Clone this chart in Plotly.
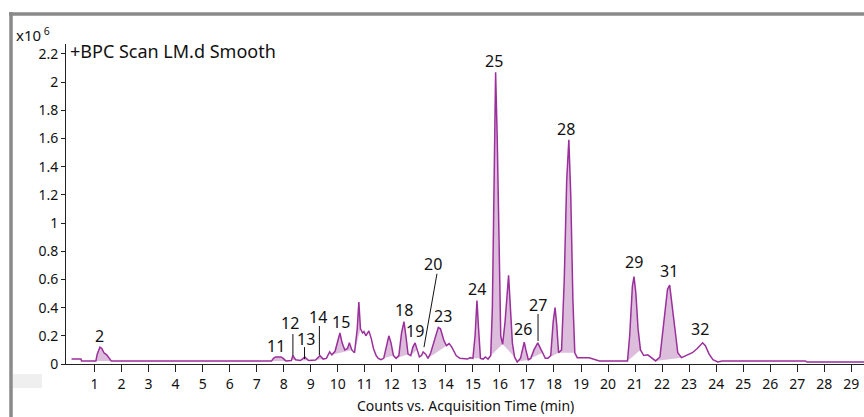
import plotly.graph_objects as go

# ---- data (counts in units of 10^6) ----
times = [0.15, 0.50, 0.52, 1.05, 1.10, 1.20, 1.27, 1.35, 1.45, 1.57, 1.62,
         7.55, 7.62, 7.70, 7.90, 7.98, 8.08, 8.28, 8.34, 8.44, 8.62, 8.78, 8.92,
         9.18, 9.34, 9.46, 9.58, 9.70, 9.78, 9.90, 10.00, 10.08, 10.16, 10.26,
         10.36, 10.43, 10.52, 10.62, 10.72, 10.78, 10.84, 10.92, 10.97, 11.04,
         11.15, 11.24, 11.32, 11.42, 11.50, 11.60, 11.70, 11.82, 11.89, 11.97,
         12.06, 12.16, 12.26, 12.36, 12.45, 12.52, 12.60, 12.70, 12.78, 12.86,
         12.93, 13.02, 13.10, 13.16, 13.25, 13.34, 13.44, 13.58, 13.72, 13.80,
         13.92, 14.02, 14.12, 14.22, 14.38, 14.52, 14.80, 14.90, 15.00, 15.08,
         15.15, 15.21, 15.28, 15.38, 15.46, 15.56, 15.66, 15.72, 15.78, 15.84,
         15.90, 15.96, 16.03, 16.10, 16.19, 16.32, 16.39, 16.46, 16.54, 16.64,
         16.76, 16.84, 16.90, 16.96, 17.05, 17.14, 17.26, 17.40, 17.48, 17.58,
         17.68, 17.78, 17.88, 17.97, 18.04, 18.10, 18.17, 18.28, 18.38, 18.47,
         18.55, 18.62, 18.70, 18.77, 18.86, 19.30, 19.50, 19.68, 20.72, 20.80,
         20.90, 20.96, 21.03, 21.11, 21.20, 21.32, 21.47, 21.62, 21.76, 21.92,
         22.06, 22.20, 22.28, 22.38, 22.48, 22.58, 22.72, 22.92, 23.12, 23.30,
         23.50, 23.60, 23.74, 23.88, 24.06, 24.22, 27.30, 27.36, 29.50]
counts = [0.035, 0.035, 0.022, 0.022, 0.07, 0.12, 0.11, 0.08, 0.065, 0.03, 0.022,
          0.022, 0.04, 0.05, 0.05, 0.04, 0.022, 0.025, 0.06, 0.03, 0.025, 0.05, 0.025,
          0.028, 0.06, 0.035, 0.04, 0.085, 0.065, 0.09, 0.17, 0.22, 0.15, 0.10,
          0.11, 0.15, 0.10, 0.08, 0.25, 0.44, 0.25, 0.22, 0.23, 0.20,
          0.235, 0.18, 0.11, 0.06, 0.04, 0.03, 0.04, 0.15, 0.20, 0.15,
          0.06, 0.04, 0.06, 0.22, 0.30, 0.20, 0.07, 0.06, 0.12, 0.15,
          0.10, 0.05, 0.06, 0.085, 0.07, 0.04, 0.08, 0.18, 0.26, 0.25,
          0.17, 0.13, 0.145, 0.12, 0.06, 0.04, 0.035, 0.045, 0.04, 0.20,
          0.45, 0.25, 0.04, 0.035, 0.05, 0.035, 0.06, 0.40, 1.20, 2.07,
          1.60, 0.80, 0.20, 0.14, 0.30, 0.63, 0.40, 0.15, 0.05, 0.015,
          0.04, 0.12, 0.155, 0.10, 0.03, 0.04, 0.10, 0.15, 0.12, 0.08,
          0.04, 0.04, 0.06, 0.30, 0.40, 0.28, 0.08, 0.10, 0.60, 1.30,
          1.59, 1.20, 0.45, 0.08, 0.045, 0.045, 0.03, 0.022, 0.022, 0.20,
          0.55, 0.62, 0.50, 0.25, 0.10, 0.06, 0.065, 0.04, 0.022, 0.05,
          0.30, 0.53, 0.56, 0.40, 0.20, 0.08, 0.045, 0.06, 0.08, 0.11,
          0.15, 0.13, 0.07, 0.03, 0.015, 0.022, 0.022, 0.015, 0.015]

# integrated peak windows (start, end) in minutes
peak_windows = [(1.05, 1.62), (7.55, 8.08), (8.28, 8.44), (8.62, 8.92), (9.18, 9.46),
                (9.78, 10.52), (10.62, 10.84), (11.70, 12.06), (12.16, 12.60),
                (12.70, 12.93), (13.34, 14.02), (15.00, 15.28), (15.66, 16.10),
                (16.10, 16.54), (16.64, 17.05), (17.14, 17.58), (17.78, 18.17),
                (18.17, 18.77), (20.72, 21.20), (21.76, 22.72)]

label_text = ["2", "11", "12", "13", "14", "15", "18", "19", "20", "23", "24",
              "25", "26", "27", "28", "29", "31", "32"]
label_t = [1.20, 7.71, 8.23, 8.82, 9.27, 10.12, 12.45, 12.86, 13.52, 13.89, 15.15,
           15.78, 16.85, 17.41, 18.44, 20.96, 22.25, 23.40]
label_v = [0.20, 0.128, 0.291, 0.177, 0.334, 0.298, 0.383, 0.234, 0.71, 0.34, 0.532,
           2.15, 0.248, 0.419, 1.668, 0.724, 0.66, 0.248]

leader_t0 = [8.34, 8.77, 9.32, 13.67, 17.41]
leader_v0 = [0.213, 0.12, 0.27, 0.64, 0.355]
leader_t1 = [8.34, 8.77, 9.32, 13.19, 17.41]
leader_v1 = [0.057, 0.035, 0.064, 0.12, 0.163]

y_ticks = [0, 0.2, 0.4, 0.6, 0.8, 1, 1.2, 1.4, 1.6, 1.8, 2, 2.2]
x_ticks = list(range(1, 30))

# ---- styling ----
LINE = "#9b2f9b"
FILL = "#dcbedc"
FONT = "Noto Sans, Open Sans, sans-serif"
W, H = 864, 417
L, R, T, B = 66, 0, 44, 53


def px(xp):
    return (xp - L) / (W - L - R)


def py(yp):
    return (H - B - yp) / (H - T - B)


fig = go.Figure()

for (s, e) in peak_windows:
    xs = [t for t in times if s <= t <= e]
    ys = [c for t, c in zip(times, counts) if s <= t <= e]
    fig.add_trace(go.Scatter(x=xs, y=ys, mode="none", fill="toself",
                             fillcolor=FILL, hoverinfo="skip", showlegend=False))

fig.add_trace(go.Scatter(x=times, y=counts, mode="lines",
                         line=dict(color=LINE, width=1.5), showlegend=False))

annotations = []
for txt, t, v in zip(label_text, label_t, label_v):
    annotations.append(dict(x=t, y=v, xref="x", yref="y", text=txt, showarrow=False,
                            xanchor="center", yanchor="middle",
                            font=dict(family=FONT, size=16, color="#111111")))

shapes = []
for a, b, c, d in zip(leader_t0, leader_v0, leader_t1, leader_v1):
    shapes.append(dict(type="line", xref="x", yref="y", x0=a, y0=b, x1=c, y1=d,
                       line=dict(color="#111111", width=1)))

# frame / decorations
shapes.append(dict(type="line", xref="paper", yref="paper", x0=px(11), x1=px(11),
                   y0=py(12), y1=py(417), line=dict(color="#8a8a8a", width=3.5)))
shapes.append(dict(type="line", xref="paper", yref="paper", x0=px(9), x1=px(864),
                   y0=py(14), y1=py(14), line=dict(color="#8a8a8a", width=3.5)))
shapes.append(dict(type="rect", xref="paper", yref="paper", x0=px(13), x1=px(42),
                   y0=py(388), y1=py(374), fillcolor="#efefef", line=dict(width=0)))

annotations.append(dict(x=px(14), y=py(34), xref="paper", yref="paper",
                        text="x10<sup> 6</sup>", showarrow=False, xanchor="left",
                        yanchor="middle", font=dict(family=FONT, size=15, color="#111111")))
annotations.append(dict(x=px(68), y=py(51), xref="paper", yref="paper",
                        text="+BPC Scan LM.d Smooth", showarrow=False, xanchor="left",
                        yanchor="middle", font=dict(family=FONT, size=18, color="#111111")))
annotations.append(dict(x=px(465), y=py(405), xref="paper", yref="paper",
                        text="Counts vs. Acquisition Time (min)", showarrow=False,
                        xanchor="center", yanchor="middle",
                        font=dict(family=FONT, size=14, color="#111111")))

fig.update_layout(
    width=W, height=H, margin=dict(l=L, r=R, t=T, b=B),
    paper_bgcolor="white", plot_bgcolor="white",
    shapes=shapes, annotations=annotations,
    xaxis=dict(range=[-0.055, 29.47], tickvals=x_ticks, ticktext=[str(v) for v in x_ticks],
               ticks="outside", ticklen=7, tickcolor="#222222", showline=True,
               linecolor="#222222", linewidth=1, showgrid=False, zeroline=False,
               tickfont=dict(family=FONT, size=14, color="#111111")),
    yaxis=dict(range=[0, 2.27], tickvals=y_ticks, ticktext=[f"{v:g}" for v in y_ticks],
               ticks="outside", ticklen=4, tickcolor="#222222", showline=True,
               linecolor="#222222", linewidth=1, showgrid=False, zeroline=False,
               tickfont=dict(family=FONT, size=14, color="#111111")),
)

fig.write_html("out.html")
